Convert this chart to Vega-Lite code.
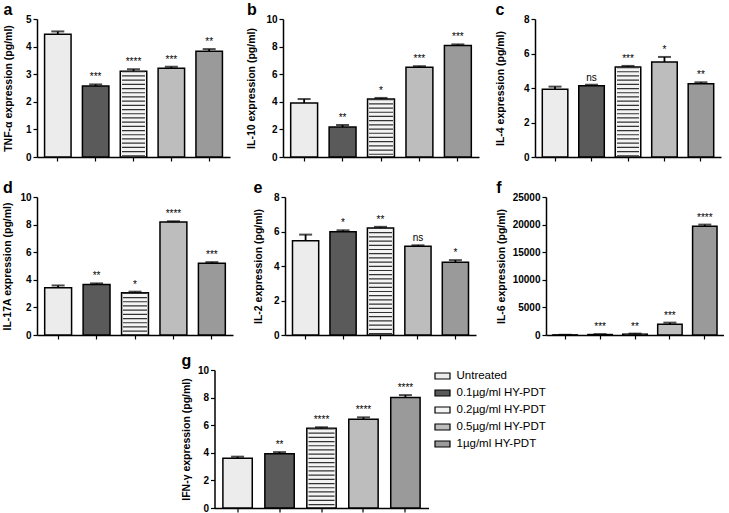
{
"$schema": "https://vega.github.io/schema/vega-lite/v6.json",
"padding": {"left": 2, "top": 2, "right": 0, "bottom": 0},
"background": "white",
"datasets": {"cyt": [
{"panel":"a","group":"Untreated","value":4.45,"err":4.55,"sig":""},
{"panel":"a","group":"0.1µg/ml HY-PDT","value":2.57,"err":2.63,"sig":"***"},
{"panel":"a","group":"0.2µg/ml HY-PDT","value":3.11,"err":3.18,"sig":"****"},
{"panel":"a","group":"0.5µg/ml HY-PDT","value":3.22,"err":3.27,"sig":"***"},
{"panel":"a","group":"1µg/ml HY-PDT","value":3.83,"err":3.91,"sig":"**"},
{"panel":"b","group":"Untreated","value":3.91,"err":4.2,"sig":""},
{"panel":"b","group":"0.1µg/ml HY-PDT","value":2.17,"err":2.32,"sig":"**"},
{"panel":"b","group":"0.2µg/ml HY-PDT","value":4.2,"err":4.28,"sig":"*"},
{"panel":"b","group":"0.5µg/ml HY-PDT","value":6.5,"err":6.58,"sig":"***"},
{"panel":"b","group":"1µg/ml HY-PDT","value":8.08,"err":8.16,"sig":"***"},
{"panel":"c","group":"Untreated","value":3.93,"err":4.08,"sig":""},
{"panel":"c","group":"0.1µg/ml HY-PDT","value":4.13,"err":4.19,"sig":"ns"},
{"panel":"c","group":"0.2µg/ml HY-PDT","value":5.22,"err":5.28,"sig":"***"},
{"panel":"c","group":"0.5µg/ml HY-PDT","value":5.51,"err":5.8,"sig":"*"},
{"panel":"c","group":"1µg/ml HY-PDT","value":4.25,"err":4.33,"sig":"**"},
{"panel":"d","group":"Untreated","value":3.42,"err":3.59,"sig":""},
{"panel":"d","group":"0.1µg/ml HY-PDT","value":3.66,"err":3.74,"sig":"**"},
{"panel":"d","group":"0.2µg/ml HY-PDT","value":3.06,"err":3.14,"sig":"*"},
{"panel":"d","group":"0.5µg/ml HY-PDT","value":8.19,"err":8.24,"sig":"****"},
{"panel":"d","group":"1µg/ml HY-PDT","value":5.2,"err":5.28,"sig":"***"},
{"panel":"e","group":"Untreated","value":5.47,"err":5.82,"sig":""},
{"panel":"e","group":"0.1µg/ml HY-PDT","value":5.99,"err":6.07,"sig":"*"},
{"panel":"e","group":"0.2µg/ml HY-PDT","value":6.21,"err":6.27,"sig":"**"},
{"panel":"e","group":"0.5µg/ml HY-PDT","value":5.14,"err":5.2,"sig":"ns"},
{"panel":"e","group":"1µg/ml HY-PDT","value":4.22,"err":4.34,"sig":"*"},
{"panel":"f","group":"Untreated","value":20,"err":40,"sig":""},
{"panel":"f","group":"0.1µg/ml HY-PDT","value":80,"err":150,"sig":"***"},
{"panel":"f","group":"0.2µg/ml HY-PDT","value":150,"err":250,"sig":"**"},
{"panel":"f","group":"0.5µg/ml HY-PDT","value":1930,"err":2240,"sig":"***"},
{"panel":"f","group":"1µg/ml HY-PDT","value":19700,"err":20000,"sig":"****"},
{"panel":"g","group":"Untreated","value":3.61,"err":3.72,"sig":""},
{"panel":"g","group":"0.1µg/ml HY-PDT","value":3.93,"err":4.05,"sig":"**"},
{"panel":"g","group":"0.2µg/ml HY-PDT","value":5.77,"err":5.85,"sig":"****"},
{"panel":"g","group":"0.5µg/ml HY-PDT","value":6.43,"err":6.57,"sig":"****"},
{"panel":"g","group":"1µg/ml HY-PDT","value":8.01,"err":8.18,"sig":"****"}
]},
"data": {"name": "cyt"},
"center": true,
"spacing": 6,
"resolve": {"scale": {"fill": "independent"}, "legend": {"fill": "independent"}},
"vconcat": [
{"spacing": 11, "align": "none", "vconcat": [
{"spacing": 16, "hconcat": [
{"title": "a", "width": 193, "height": 138,
 "transform": [{"filter": "datum.panel === 'a'"}],
 "encoding": {"x": {"field": "group", "type": "nominal", "sort": ["Untreated","0.1µg/ml HY-PDT","0.2µg/ml HY-PDT","0.5µg/ml HY-PDT","1µg/ml HY-PDT"], "axis": {"labels": false, "title": null}}},
 "layer": [
  {"mark": {"type": "bar", "stroke": "black", "strokeWidth": 1.5},
   "encoding": {"y": {"field": "value", "type": "quantitative", "scale": {"domain": [0, 5], "nice": false}, "axis": {"title": "TNF-α expression (pg/ml)", "values": [0,1,2,3,4,5], "tickCount": 12, "format": "d", "titlePadding": 12}},
    "fill": {"field": "group", "type": "nominal", "scale": {"domain": ["Untreated","0.1µg/ml HY-PDT","0.2µg/ml HY-PDT","0.5µg/ml HY-PDT","1µg/ml HY-PDT"], "range": ["#ececec","#5a5a5a","#f4f4f4","#bdbdbd","#9a9a9a"]}, "legend": null}}},
  {"transform": [{"filter": "datum.group === '0.2µg/ml HY-PDT'"}], "mark": {"type": "rule", "strokeWidth": 23, "strokeDash": [1.2, 3], "color": "#333"}, "encoding": {"y": {"field": "value", "type": "quantitative"}, "y2": {"datum": 0}}},
  {"mark": {"type": "rule", "strokeWidth": 1.8, "color": "black"}, "encoding": {"y": {"field": "value", "type": "quantitative"}, "y2": {"field": "err"}}},
  {"mark": {"type": "tick", "orient": "horizontal", "size": 13, "thickness": 2, "color": "black"}, "encoding": {"y": {"field": "err", "type": "quantitative"}}},
  {"mark": {"type": "text", "baseline": "bottom", "dy": -2, "fontSize": 10, "color": "black"}, "encoding": {"y": {"field": "err", "type": "quantitative"}, "text": {"field": "sig"}}}
 ]},
{"title": "b", "width": 196, "height": 138,
 "transform": [{"filter": "datum.panel === 'b'"}],
 "encoding": {"x": {"field": "group", "type": "nominal", "sort": ["Untreated","0.1µg/ml HY-PDT","0.2µg/ml HY-PDT","0.5µg/ml HY-PDT","1µg/ml HY-PDT"], "axis": {"labels": false, "title": null}}},
 "layer": [
  {"mark": {"type": "bar", "stroke": "black", "strokeWidth": 1.5},
   "encoding": {"y": {"field": "value", "type": "quantitative", "scale": {"domain": [0, 10], "nice": false}, "axis": {"title": "IL-10 expression (pg/ml)", "values": [0,2,4,6,8,10], "tickCount": 12, "format": "d", "titlePadding": 9}},
    "fill": {"field": "group", "type": "nominal", "scale": {"domain": ["Untreated","0.1µg/ml HY-PDT","0.2µg/ml HY-PDT","0.5µg/ml HY-PDT","1µg/ml HY-PDT"], "range": ["#ececec","#5a5a5a","#f4f4f4","#bdbdbd","#9a9a9a"]}, "legend": null}}},
  {"transform": [{"filter": "datum.group === '0.2µg/ml HY-PDT'"}], "mark": {"type": "rule", "strokeWidth": 24, "strokeDash": [1.2, 3], "color": "#333"}, "encoding": {"y": {"field": "value", "type": "quantitative"}, "y2": {"datum": 0}}},
  {"mark": {"type": "rule", "strokeWidth": 1.8, "color": "black"}, "encoding": {"y": {"field": "value", "type": "quantitative"}, "y2": {"field": "err"}}},
  {"mark": {"type": "tick", "orient": "horizontal", "size": 13, "thickness": 2, "color": "black"}, "encoding": {"y": {"field": "err", "type": "quantitative"}}},
  {"mark": {"type": "text", "baseline": "bottom", "dy": -2, "fontSize": 10, "color": "black"}, "encoding": {"y": {"field": "err", "type": "quantitative"}, "text": {"field": "sig"}}}
 ]},
{"title": "c", "width": 186, "height": 138,
 "transform": [{"filter": "datum.panel === 'c'"}],
 "encoding": {"x": {"field": "group", "type": "nominal", "sort": ["Untreated","0.1µg/ml HY-PDT","0.2µg/ml HY-PDT","0.5µg/ml HY-PDT","1µg/ml HY-PDT"], "axis": {"labels": false, "title": null}}},
 "layer": [
  {"mark": {"type": "bar", "stroke": "black", "strokeWidth": 1.5},
   "encoding": {"y": {"field": "value", "type": "quantitative", "scale": {"domain": [0, 8], "nice": false}, "axis": {"title": "IL-4 expression (pg/ml)", "values": [0,2,4,6,8], "tickCount": 12, "format": "d", "titlePadding": 18}},
    "fill": {"field": "group", "type": "nominal", "scale": {"domain": ["Untreated","0.1µg/ml HY-PDT","0.2µg/ml HY-PDT","0.5µg/ml HY-PDT","1µg/ml HY-PDT"], "range": ["#ececec","#5a5a5a","#f4f4f4","#bdbdbd","#9a9a9a"]}, "legend": null}}},
  {"transform": [{"filter": "datum.group === '0.2µg/ml HY-PDT'"}], "mark": {"type": "rule", "strokeWidth": 22, "strokeDash": [1.2, 3], "color": "#333"}, "encoding": {"y": {"field": "value", "type": "quantitative"}, "y2": {"datum": 0}}},
  {"mark": {"type": "rule", "strokeWidth": 1.8, "color": "black"}, "encoding": {"y": {"field": "value", "type": "quantitative"}, "y2": {"field": "err"}}},
  {"mark": {"type": "tick", "orient": "horizontal", "size": 13, "thickness": 2, "color": "black"}, "encoding": {"y": {"field": "err", "type": "quantitative"}}},
  {"mark": {"type": "text", "baseline": "bottom", "dy": -2, "fontSize": 10, "color": "black"}, "encoding": {"y": {"field": "err", "type": "quantitative"}, "text": {"field": "sig"}}}
 ]}
]},
{"spacing": 20, "hconcat": [
{"title": "d", "width": 196, "height": 138,
 "transform": [{"filter": "datum.panel === 'd'"}],
 "encoding": {"x": {"field": "group", "type": "nominal", "sort": ["Untreated","0.1µg/ml HY-PDT","0.2µg/ml HY-PDT","0.5µg/ml HY-PDT","1µg/ml HY-PDT"], "axis": {"labels": false, "title": null}}},
 "layer": [
  {"mark": {"type": "bar", "stroke": "black", "strokeWidth": 1.5},
   "encoding": {"y": {"field": "value", "type": "quantitative", "scale": {"domain": [0, 10], "nice": false}, "axis": {"title": "IL-17A expression (pg/ml)", "values": [0,2,4,6,8,10], "tickCount": 12, "format": "d", "titlePadding": 7}},
    "fill": {"field": "group", "type": "nominal", "scale": {"domain": ["Untreated","0.1µg/ml HY-PDT","0.2µg/ml HY-PDT","0.5µg/ml HY-PDT","1µg/ml HY-PDT"], "range": ["#ececec","#5a5a5a","#f4f4f4","#bdbdbd","#9a9a9a"]}, "legend": null}}},
  {"transform": [{"filter": "datum.group === '0.2µg/ml HY-PDT'"}], "mark": {"type": "rule", "strokeWidth": 24, "strokeDash": [1.2, 3], "color": "#333"}, "encoding": {"y": {"field": "value", "type": "quantitative"}, "y2": {"datum": 0}}},
  {"mark": {"type": "rule", "strokeWidth": 1.8, "color": "black"}, "encoding": {"y": {"field": "value", "type": "quantitative"}, "y2": {"field": "err"}}},
  {"mark": {"type": "tick", "orient": "horizontal", "size": 13, "thickness": 2, "color": "black"}, "encoding": {"y": {"field": "err", "type": "quantitative"}}},
  {"mark": {"type": "text", "baseline": "bottom", "dy": -2, "fontSize": 10, "color": "black"}, "encoding": {"y": {"field": "err", "type": "quantitative"}, "text": {"field": "sig"}}}
 ]},
{"title": "e", "width": 191, "height": 138,
 "transform": [{"filter": "datum.panel === 'e'"}],
 "encoding": {"x": {"field": "group", "type": "nominal", "sort": ["Untreated","0.1µg/ml HY-PDT","0.2µg/ml HY-PDT","0.5µg/ml HY-PDT","1µg/ml HY-PDT"], "axis": {"labels": false, "title": null}}},
 "layer": [
  {"mark": {"type": "bar", "stroke": "black", "strokeWidth": 1.5},
   "encoding": {"y": {"field": "value", "type": "quantitative", "scale": {"domain": [0, 8], "nice": false}, "axis": {"title": "IL-2 expression (pg/ml)", "values": [0,2,4,6,8], "tickCount": 12, "format": "d", "titlePadding": 10}},
    "fill": {"field": "group", "type": "nominal", "scale": {"domain": ["Untreated","0.1µg/ml HY-PDT","0.2µg/ml HY-PDT","0.5µg/ml HY-PDT","1µg/ml HY-PDT"], "range": ["#ececec","#5a5a5a","#f4f4f4","#bdbdbd","#9a9a9a"]}, "legend": null}}},
  {"transform": [{"filter": "datum.group === '0.2µg/ml HY-PDT'"}], "mark": {"type": "rule", "strokeWidth": 23, "strokeDash": [1.2, 3], "color": "#333"}, "encoding": {"y": {"field": "value", "type": "quantitative"}, "y2": {"datum": 0}}},
  {"mark": {"type": "rule", "strokeWidth": 1.8, "color": "black"}, "encoding": {"y": {"field": "value", "type": "quantitative"}, "y2": {"field": "err"}}},
  {"mark": {"type": "tick", "orient": "horizontal", "size": 13, "thickness": 2, "color": "black"}, "encoding": {"y": {"field": "err", "type": "quantitative"}}},
  {"mark": {"type": "text", "baseline": "bottom", "dy": -2, "fontSize": 10, "color": "black"}, "encoding": {"y": {"field": "err", "type": "quantitative"}, "text": {"field": "sig"}}}
 ]},
{"title": "f", "width": 178, "height": 138,
 "transform": [{"filter": "datum.panel === 'f'"}],
 "encoding": {"x": {"field": "group", "type": "nominal", "sort": ["Untreated","0.1µg/ml HY-PDT","0.2µg/ml HY-PDT","0.5µg/ml HY-PDT","1µg/ml HY-PDT"], "axis": {"labels": false, "title": null}}},
 "layer": [
  {"mark": {"type": "bar", "stroke": "black", "strokeWidth": 1.5},
   "encoding": {"y": {"field": "value", "type": "quantitative", "scale": {"domain": [0, 25000], "nice": false}, "axis": {"title": "IL-6 expression (pg/ml)", "values": [0,5000,10000,15000,20000,25000], "tickCount": 12, "format": "d", "titlePadding": 6}},
    "fill": {"field": "group", "type": "nominal", "scale": {"domain": ["Untreated","0.1µg/ml HY-PDT","0.2µg/ml HY-PDT","0.5µg/ml HY-PDT","1µg/ml HY-PDT"], "range": ["#ececec","#5a5a5a","#f4f4f4","#bdbdbd","#9a9a9a"]}, "legend": null}}},
  {"transform": [{"filter": "datum.group === '0.2µg/ml HY-PDT'"}], "mark": {"type": "rule", "strokeWidth": 21, "strokeDash": [1.2, 3], "color": "#333"}, "encoding": {"y": {"field": "value", "type": "quantitative"}, "y2": {"datum": 0}}},
  {"mark": {"type": "rule", "strokeWidth": 1.8, "color": "black"}, "encoding": {"y": {"field": "value", "type": "quantitative"}, "y2": {"field": "err"}}},
  {"mark": {"type": "tick", "orient": "horizontal", "size": 13, "thickness": 2, "color": "black"}, "encoding": {"y": {"field": "err", "type": "quantitative"}}},
  {"mark": {"type": "text", "baseline": "bottom", "dy": -2, "fontSize": 10, "color": "black"}, "encoding": {"y": {"field": "err", "type": "quantitative"}, "text": {"field": "sig"}}}
 ]}
]}
]},
{"title": "g", "width": 214, "height": 138,
 "transform": [{"filter": "datum.panel === 'g'"}],
 "encoding": {"x": {"field": "group", "type": "nominal", "sort": ["Untreated","0.1µg/ml HY-PDT","0.2µg/ml HY-PDT","0.5µg/ml HY-PDT","1µg/ml HY-PDT"], "axis": {"labels": false, "title": null}}},
 "layer": [
  {"mark": {"type": "bar", "stroke": "black", "strokeWidth": 1.5},
   "encoding": {"y": {"field": "value", "type": "quantitative", "scale": {"domain": [0, 10], "nice": false}, "axis": {"title": "IFN-γ expression (pg/ml)", "values": [0,2,4,6,8,10], "tickCount": 12, "format": "d", "titlePadding": 6}},
    "fill": {"field": "group", "type": "nominal", "scale": {"domain": ["Untreated","0.1µg/ml HY-PDT","0.2µg/ml HY-PDT","0.5µg/ml HY-PDT","1µg/ml HY-PDT"], "range": ["#ececec","#5a5a5a","#f4f4f4","#bdbdbd","#9a9a9a"]},
     "legend": {"title": null, "offset": 8, "symbolType": "M-1.5,-0.6H1.5V0.6H-1.5Z", "symbolSize": 100, "symbolStrokeColor": "black", "symbolStrokeWidth": 1.2, "labelFont": "Liberation Sans", "labelFontSize": 11.5, "labelColor": "black", "rowPadding": 5, "labelOffset": 8}}}},
  {"transform": [{"filter": "datum.group === '0.2µg/ml HY-PDT'"}], "mark": {"type": "rule", "strokeWidth": 26, "strokeDash": [1.2, 3], "color": "#333"}, "encoding": {"y": {"field": "value", "type": "quantitative"}, "y2": {"datum": 0}}},
  {"mark": {"type": "rule", "strokeWidth": 1.8, "color": "black"}, "encoding": {"y": {"field": "value", "type": "quantitative"}, "y2": {"field": "err"}}},
  {"mark": {"type": "tick", "orient": "horizontal", "size": 13, "thickness": 2, "color": "black"}, "encoding": {"y": {"field": "err", "type": "quantitative"}}},
  {"mark": {"type": "text", "baseline": "bottom", "dy": -2, "fontSize": 10, "color": "black"}, "encoding": {"y": {"field": "err", "type": "quantitative"}, "text": {"field": "sig"}}}
 ]}
],
"config": {
 "view": {"stroke": null},
 "font": "Liberation Sans",
 "scale": {"bandPaddingInner": 0.3, "bandPaddingOuter": 0.2},
 "axis": {"grid": false, "labelOverlap": false, "domainColor": "black", "domainWidth": 1.5, "tickColor": "black", "tickWidth": 1.2, "tickSize": 4, "labelFont": "Liberation Sans", "labelFontSize": 10, "labelFontWeight": "bold", "labelColor": "black", "labelPadding": 2, "titleFont": "Liberation Sans", "titleFontSize": 10.5, "titleFontWeight": "bold", "titleColor": "black"},
 "title": {"anchor": "start", "frame": "bounds", "fontSize": 16, "fontWeight": "bold", "offset": -4, "color": "black", "font": "Liberation Sans"}
}
}
